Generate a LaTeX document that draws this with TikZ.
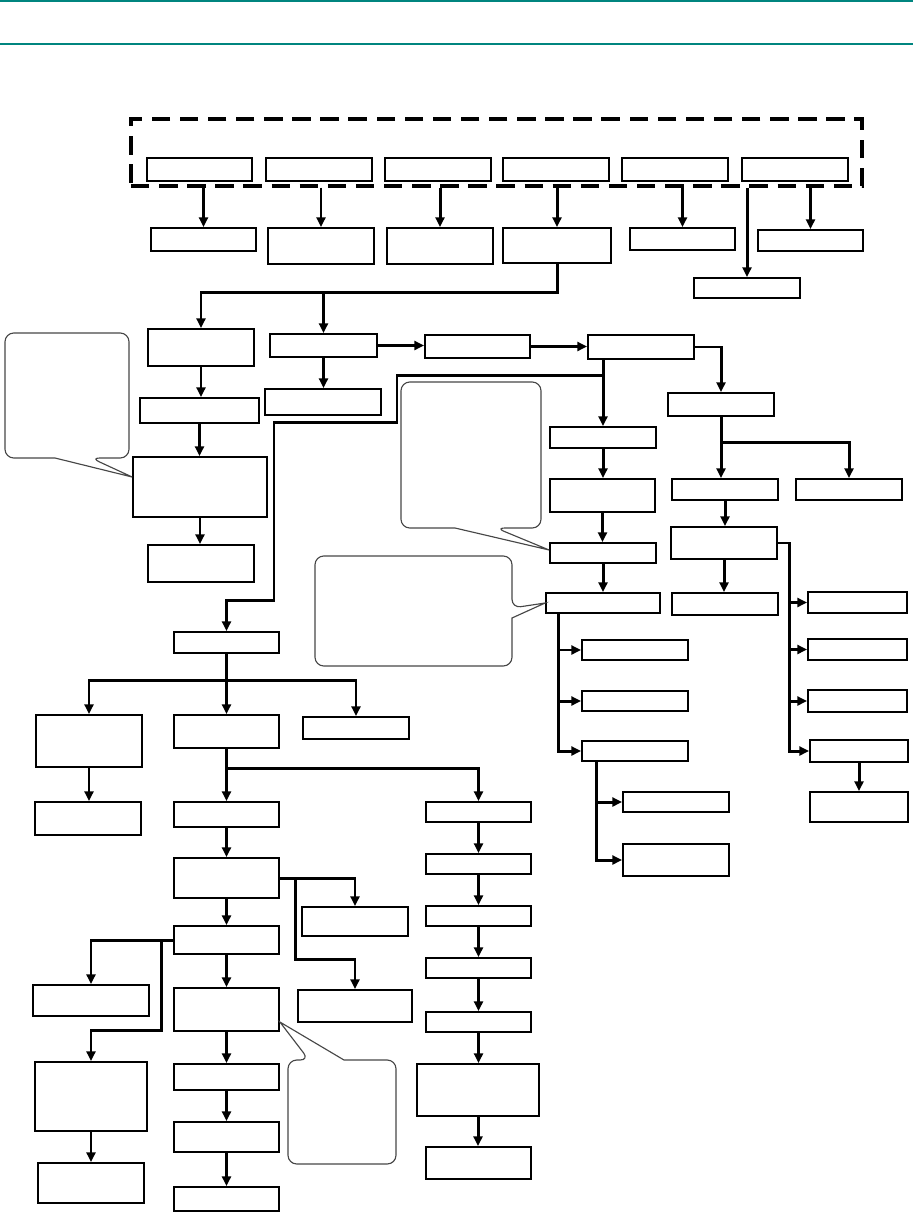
\documentclass[tikz,border=0pt]{standalone}
\usepackage{tikz}
\usetikzlibrary{arrows.meta, positioning, fit, calc}
\definecolor{headteal}{RGB}{0,133,127}

\begin{document}
\begin{tikzpicture}[
    x=0.02cm, y=-0.02cm,
    box/.style={draw, line width=1pt, inner sep=0pt},
    groupbox/.style={draw, line width=1.9pt, dash pattern=on 10.5pt off 5.5pt, inner sep=0pt},
    arr/.style={line width=1.7pt, -{Triangle[length=5.5pt,width=5pt]}},
    link/.style={line width=1.7pt},
    note/.style={draw=black!72, line width=0.65pt, rounded corners=5pt}
]

\useasboundingbox (0,0) rectangle (913,1213);
\draw[headteal, line width=0.8pt] (0,1) -- (913,1);
\draw[headteal, line width=0.8pt] (0,44) -- (913,44);

\node[groupbox, fit={(131,119) (862,186)}] (grp) {};
\node[box, fit={(147,158) (252,181)}] (A1) {};
\node[box, fit={(266,158) (372,181)}] (A2) {};
\node[box, fit={(385,158) (491,181)}] (A3) {};
\node[box, fit={(503,158) (609,181)}] (A4) {};
\node[box, fit={(622,158) (728,181)}] (A5) {};
\node[box, fit={(742,158) (848,181)}] (A6) {};

\node[box, fit={(151,228) (256,251)}] (B1) {};
\node[box, fit={(268,228) (374,264)}] (B2) {};
\node[box, fit={(387,228) (493,264)}] (B3) {};
\node[box, fit={(503,228) (611,263)}] (B4) {};
\node[box, fit={(630,228) (735,250)}] (B5) {};
\node[box, fit={(758,230) (863,251)}] (B6) {};
\node[box, fit={(694,278) (800,298)}] (B7) {};

\node[box, fit={(148,329) (254,366)}] (C1) {};
\node[box, fit={(270,334) (377,357)}] (C2) {};
\node[box, fit={(425,335) (530,358)}] (C3) {};
\node[box, fit={(588,335) (694,359)}] (C4) {};

\node[box, fit={(140,398) (259,423)}] (D1) {};
\node[box, fit={(265,389) (381,415)}] (D2) {};
\node[box, fit={(133,457) (267,517)}] (E1) {};
\node[box, fit={(148,545) (254,582)}] (F1) {};

\node[box, fit={(550,427) (656,448)}] (D3) {};
\node[box, fit={(550,479) (655,512)}] (E3) {};
\node[box, fit={(550,543) (656,563)}] (F3) {};
\node[box, fit={(546,593) (660,613)}] (G3) {};
\node[box, fit={(582,640) (688,660)}] (H4) {};
\node[box, fit={(582,691) (688,711)}] (H5) {};
\node[box, fit={(582,741) (688,761)}] (H6) {};
\node[box, fit={(623,792) (729,812)}] (I4) {};
\node[box, fit={(623,844) (729,876)}] (I5) {};

\node[box, fit={(668,393) (774,416)}] (D4) {};
\node[box, fit={(672,479) (778,500)}] (E4) {};
\node[box, fit={(796,479) (902,500)}] (E5) {};
\node[box, fit={(671,527) (777,559)}] (F4) {};
\node[box, fit={(672,593) (778,615)}] (G4) {};
\node[box, fit={(808,592) (907,613)}] (J4) {};
\node[box, fit={(808,639) (907,660)}] (J5) {};
\node[box, fit={(808,690) (907,712)}] (J6) {};
\node[box, fit={(810,740) (908,762)}] (J7) {};
\node[box, fit={(810,792) (908,822)}] (K7) {};

\node[box, fit={(174,632) (279,653)}] (G1) {};
\node[box, fit={(36,715) (142,767)}] (H1) {};
\node[box, fit={(174,715) (279,748)}] (H2) {};
\node[box, fit={(303,717) (409,739)}] (H3) {};
\node[box, fit={(35,802) (141,835)}] (I1) {};
\node[box, fit={(174,802) (279,827)}] (I2) {};
\node[box, fit={(174,858) (279,898)}] (J2) {};
\node[box, fit={(174,926) (279,954)}] (K2) {};
\node[box, fit={(174,988) (279,1031)}] (L2) {};
\node[box, fit={(174,1064) (279,1090)}] (M2) {};
\node[box, fit={(174,1122) (279,1152)}] (N2) {};
\node[box, fit={(174,1187) (279,1211)}] (O2) {};
\node[box, fit={(302,907) (408,936)}] (K3) {};
\node[box, fit={(298,990) (412,1022)}] (L3) {};
\node[box, fit={(33,985) (149,1016)}] (L1) {};
\node[box, fit={(35,1062) (147,1131)}] (M1) {};
\node[box, fit={(38,1163) (144,1203)}] (N1) {};

\node[box, fit={(426,802) (531,822)}] (R1) {};
\node[box, fit={(426,854) (531,874)}] (R2) {};
\node[box, fit={(426,906) (531,926)}] (R3) {};
\node[box, fit={(426,958) (531,978)}] (R4) {};
\node[box, fit={(426,1012) (531,1032)}] (R5) {};
\node[box, fit={(417,1064) (539,1116)}] (R6) {};
\node[box, fit={(426,1147) (531,1179)}] (R7) {};

\draw[arr] (B1.north |- grp.south) -- (B1.north);
\draw[arr] (B2.north |- grp.south) -- (B2.north);
\draw[arr] (B3.north |- grp.south) -- (B3.north);
\draw[arr] (B4.north |- grp.south) -- (B4.north);
\draw[arr] (B5.north |- grp.south) -- (B5.north);
\draw[arr] (B6.north |- grp.south) -- (B6.north);
\draw[arr] (B7.north |- grp.south) -- (B7.north);

\coordinate (b4j) at ([yshift=-0.58cm]B4.south);
\draw[arr] (B4.south) -- (b4j) -| (C1.north);
\draw[arr] (b4j -| C2.north) -- (C2.north);
\draw[arr] (C2.east) -- (C2.east -| C3.west);
\draw[arr] (C3.east) -- (C3.east -| C4.west);
\draw[arr] (C2.south) -- (C2.south |- D2.north);
\draw[arr] (C1.south) -- (C1.south |- D1.north);
\draw[arr] (D1.south) -- (D1.south |- E1.north);
\draw[arr] (E1.south) -- (E1.south |- F1.north);

\coordinate (c4s) at (D3.north |- C4.south);
\coordinate (c4j) at ([yshift=-0.32cm]c4s);
\draw[arr] (c4s) -- (D3.north);
\draw[arr] (c4j) -| ++(-206,47) -| ++(-123,178) -| (G1.north);
\draw[arr] (D3.south) -- (D3.south |- E3.north);
\draw[arr] (E3.south) -- (E3.south |- F3.north);
\draw[arr] (F3.south) -- (F3.south |- G3.north);

\coordinate (g3s) at ([xshift=0.26cm]G3.south west);
\draw[arr] (g3s) |- (H6.west);
\draw[arr] (g3s |- H4.west) -- (H4.west);
\draw[arr] (g3s |- H5.west) -- (H5.west);
\coordinate (h6s) at ([xshift=0.3cm]H6.south west);
\draw[arr] (h6s) |- (I5.west);
\draw[arr] (h6s |- I4.west) -- (I4.west);

\draw[arr] (C4.east) -| (D4.north);
\coordinate (d4j) at ([yshift=-0.52cm]D4.south);
\draw[arr] (D4.south) -- (D4.south |- E4.north);
\draw[arr] (d4j) -| (E5.north);
\draw[arr] (E4.south) -- (E4.south |- F4.north);
\draw[arr] (F4.south) -- (F4.south |- G4.north);
\coordinate (f4r) at ([xshift=0.24cm]F4.east);
\draw[arr] (F4.east) -- (f4r) |- (J7.west);
\draw[arr] (f4r |- J4.west) -- (J4.west);
\draw[arr] (f4r |- J5.west) -- (J5.west);
\draw[arr] (f4r |- J6.west) -- (J6.west);
\draw[arr] (J7.south) -- (J7.south |- K7.north);

\coordinate (g1j) at ([yshift=-0.54cm]G1.south);
\draw[arr] (G1.south) -- (G1.south |- H2.north);
\draw[arr] (g1j) -| (H1.north);
\draw[arr] (g1j) -| (H3.north);
\draw[arr] (H1.south) -- (H1.south |- I1.north);
\coordinate (h2j) at ([yshift=-0.4cm]H2.south);
\draw[arr] (H2.south) -- (H2.south |- I2.north);
\draw[arr] (h2j) -| (R1.north);
\draw[arr] (I2.south) -- (I2.south |- J2.north);
\draw[arr] (J2.south) -- (J2.south |- K2.north);
\draw[arr] (K2.south) -- (K2.south |- L2.north);
\draw[arr] (L2.south) -- (L2.south |- M2.north);
\draw[arr] (M2.south) -- (M2.south |- N2.north);
\draw[arr] (N2.south) -- (N2.south |- O2.north);

\coordinate (j2r) at ([xshift=0.32cm]J2.east);
\draw[arr] (J2.east) -| (K3.north);
\draw[arr] (j2r) -- ++(0,81) -| (L3.north);
\coordinate (k2l) at ([xshift=-0.24cm]K2.west);
\draw[arr] (K2.west) -| (L1.north);
\draw[arr] (k2l) -- ++(0,90) -| (M1.north);
\draw[arr] (M1.south) -- (M1.south |- N1.north);

\draw[arr] (R1.south) -- (R1.south |- R2.north);
\draw[arr] (R2.south) -- (R2.south |- R3.north);
\draw[arr] (R3.south) -- (R3.south |- R4.north);
\draw[arr] (R4.south) -- (R4.south |- R5.north);
\draw[arr] (R5.south) -- (R5.south |- R6.north);
\draw[arr] (R6.south) -- (R6.south |- R7.north);

\draw[note] (60,333) -- (129,333) -- (129,458) -- (91,458) [sharp corners] -- ([yshift=0.2cm]E1.west) -- (55,458) [rounded corners=5pt] -- (5,458) -- (5,333) -- cycle;
\draw[note] (470,382) -- (541,382) -- (541,528) -- (496,528) [sharp corners] -- ([yshift=0.06cm]F3.west) -- (455,528) [rounded corners=5pt] -- (401,528) -- (401,382) -- cycle;
\draw[note] (400,556) -- (512,556) -- (512,608) [sharp corners] -- (G3.west) -- (512,618) [rounded corners=5pt] -- (512,666) -- (315,666) -- (315,556) -- cycle;
\draw[note] (370,1164) -- (288,1164) -- (288,1060) -- (309,1060) [sharp corners] -- ([yshift=-0.25cm]L2.east) -- (344,1060) [rounded corners=5pt] -- (396,1060) -- (396,1164) -- cycle;

\end{tikzpicture}
\end{document}
